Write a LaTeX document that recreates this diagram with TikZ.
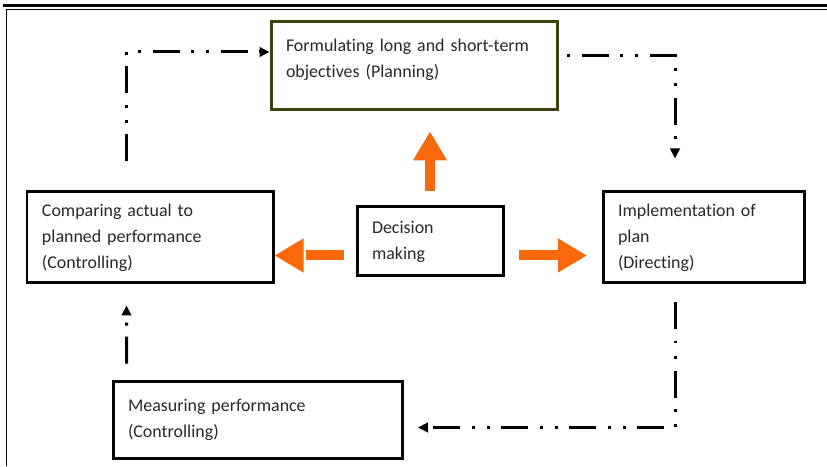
\documentclass[tikz,border=0pt]{standalone}
\usepackage{fontspec}
\setmainfont{Carlito}[Ligatures=NoCommon]
\usetikzlibrary{arrows.meta}
\definecolor{boxolive}{RGB}{64,64,16}
\definecolor{arroworange}{RGB}{250,104,12}
\definecolor{txtgray}{RGB}{40,40,40}

\begin{document}
\begin{tikzpicture}[
		stagebox/.style={rectangle, draw, line width=0.06cm, inner xsep=0.3cm, align=left, text=txtgray, font=\fontsize{10.2pt}{14.7pt}\selectfont},
		loopline/.style={line width=0.06cm, dash pattern=on 0.54cm off 0.22cm on 0.06cm off 0.24cm on 0.06cm off 0.24cm, -{Triangle[length=0.2cm,width=0.19cm]}},
		bigarrow/.style={arroworange, line width=0.2cm, -{Triangle[length=0.58cm,width=0.64cm]}}
	]
		\useasboundingbox (0,0) rectangle (16.54,9.32);
		% page frame
		\draw[line width=0.05cm] (0.06,9.21) -- (16.54,9.21);
		\draw[line width=0.03cm] (16.54,9.13) -- (0.13,9.13) -- (0.13,0);

		% management functions
		\node[stagebox, draw=boxolive, minimum width=5.72cm, minimum height=1.76cm, text width=5.12cm] (plan) at (8.28,8.0) {Formulating long and short-term\\objectives (Planning)\\[-5.7pt]\mbox{}};
		\node[stagebox, minimum width=4.92cm, minimum height=1.82cm, text width=4.32cm] (comp) at (3.0,4.57) {Comparing actual to\\planned performance\\(Controlling)};
		\node[stagebox, minimum width=2.92cm, minimum height=1.38cm, text width=2.32cm] (dec) at (8.6,4.49) {Decision\\making};
		\node[stagebox, minimum width=4.02cm, minimum height=1.82cm, text width=3.42cm] (impl) at (14.07,4.57) {Implementation of\\plan\\(Directing)};
		\node[stagebox, minimum width=5.78cm, minimum height=1.54cm, text width=5.18cm] (meas) at (5.15,0.93) {Measuring performance\\(Controlling)};

		% decision making feeds the functions
		\draw[bigarrow, shorten <=0.28cm, shorten >=0.4cm] (dec.north) -- (dec.north |- plan.south);
		\draw[bigarrow, dash pattern=on 0.76cm off 0.2cm, shorten <=0.24cm] ([yshift=-0.28cm]dec.west) -- ([yshift=-0.28cm]dec.west -| comp.east);
		\draw[bigarrow, dash pattern=on 0.77cm off 0.2cm, shorten <=0.29cm, shorten >=0.29cm] ([yshift=-0.28cm]dec.east) -- ([yshift=-0.28cm]dec.east -| impl.west);

		% control loop
		\draw[loopline, shorten <=0.58cm] ([xshift=2.02cm]comp.north west) |- ([yshift=0.28cm]plan.west);
		\draw[loopline, dash phase=0.9cm, shorten >=0.64cm] ([yshift=0.2cm]plan.east) -| ([xshift=-0.57cm]impl.north);
		\draw[loopline, shorten <=0.36cm, shorten >=0.29cm] ([xshift=-0.57cm]impl.south) |- ([yshift=-0.16cm]meas.east);
		\draw[loopline, shorten <=0.32cm, shorten >=0.42cm] ([xshift=0.3cm]meas.north west) -- ([xshift=2.02cm]comp.south west);
\end{tikzpicture}
\end{document}
